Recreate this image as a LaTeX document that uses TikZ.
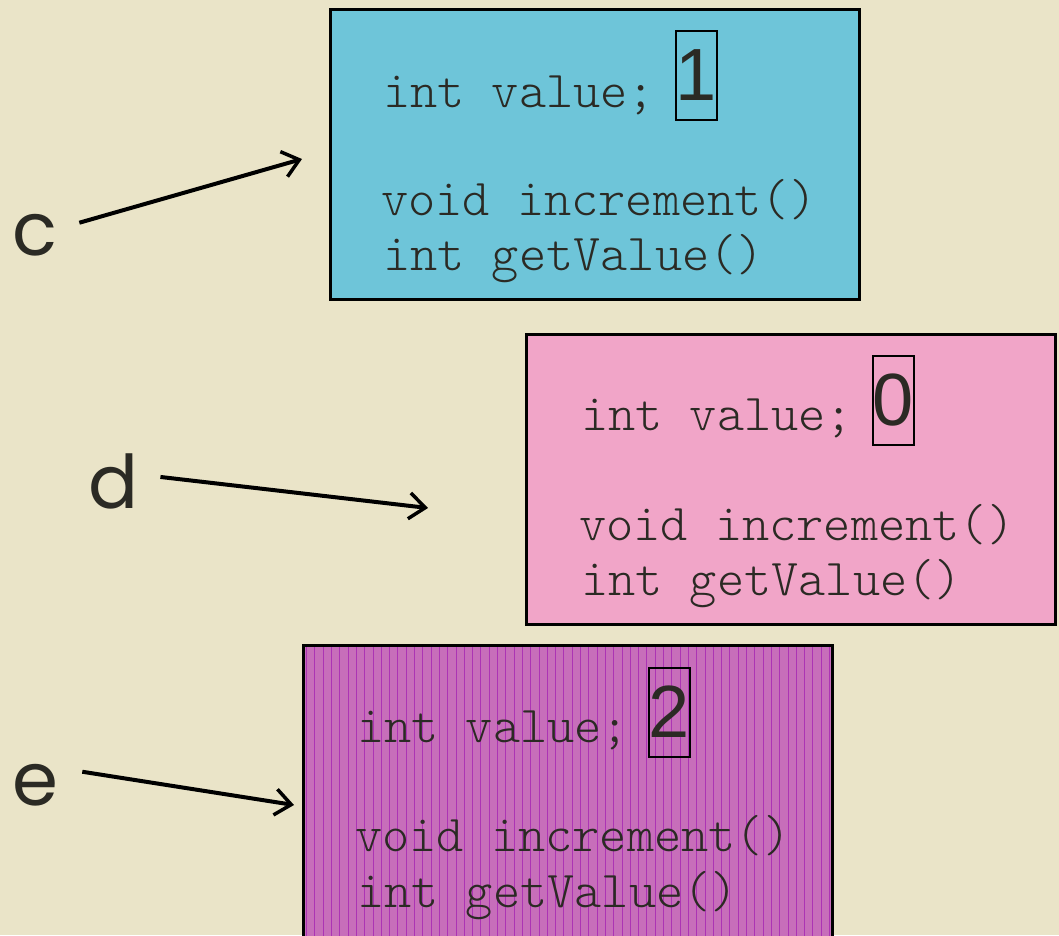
\documentclass[tikz,border=0pt]{standalone}
\usepackage{fontspec}
\usetikzlibrary{arrows.meta}
\newfontfamily\codefont{lmmonolt10-regular.otf}
\newfontfamily\digitfont{Liberation Sans}
\newfontfamily\labelfont{Poppins}
\definecolor{paper}{HTML}{EAE4C8}
\definecolor{ink}{HTML}{2B2A24}
\definecolor{objblue}{HTML}{6EC5D9}
\definecolor{objpink}{HTML}{F1A5C8}
\definecolor{objpurple}{HTML}{C76EBA}
\definecolor{stripe}{HTML}{AC34B4}

\begin{document}
\begin{tikzpicture}[x=1pt, y=-1pt,
  every node/.style={inner sep=0pt},
  objbox/.style={draw=black, line width=3pt, minimum width=529pt, minimum height=290pt},
  striped/.style={path picture={
      \foreach \i in {0,...,66}
        \draw[stripe, line width=0.7pt]
          ([xshift=\i*8.3pt+3pt]path picture bounding box.north west) --
          ([xshift=\i*8.3pt+3pt]path picture bounding box.south west);}},
  codeline/.style={anchor=base west, text=ink, font=\fontsize{51.8}{54}\codefont},
  valbox/.style={draw=black, line width=2pt, minimum width=41pt, minimum height=89pt,
    text=ink, font=\fontsize{74}{80}\digitfont},
  varname/.style={anchor=base west, text=ink, font=\fontsize{74}{80}\labelfont},
  ref/.style={-{Straight Barb[length=16pt, width=26pt, line width=3.5pt]}, line width=4pt, black}]

  % page
  \fill[paper] (0,0) rectangle (1059,935);
  \clip (0,0) rectangle (1059,935);

  % object referenced by c
  \node[objbox, fill=objblue] (objc) at (594.5,154.5) {};
  \node[codeline] (objcval) at (383,107) {int value;};
  \node[valbox] (objcnum) at (696.5,75.5) {1};
  \node[codeline] (objcinc) at (381,215) {void increment()};
  \node[codeline] (objcget) at (383,270) {int getValue()};

  % object referenced by d
  \node[objbox, fill=objpink] (objd) at (791,479) {};
  \node[codeline] (objdval) at (581,430) {int value;};
  \node[valbox] (objdnum) at (893.5,400.5) {0};
  \node[codeline] (objdinc) at (579,540) {void increment()};
  \node[codeline] (objdget) at (581,595) {int getValue()};

  % object referenced by e
  \node[objbox, fill=objpurple, striped, minimum height=320pt] (obje) at (568,805.5) {};
  \node[codeline] (objeval) at (357,742) {int value;};
  \node[valbox] (objenum) at (669.5,712) {2};
  \node[codeline] (objeinc) at (355,851) {void increment()};
  \node[codeline] (objeget) at (357,907) {int getValue()};

  % variables
  \node[varname] (varc) at (12,255) {c};
  \node[varname] (vard) at (88,508) {d};
  \node[varname] (vare) at (12,805) {e};

  \coordinate (tipc) at (302,159);
  \coordinate (tipd) at (428,508);
  \coordinate (tipe) at (294,805);

  % references
  \draw[ref] ([xshift=22pt, yshift=12pt]varc.east) -- (tipc);
  \draw[ref] ([xshift=22pt, yshift=4pt]vard.east) -- (tipd);
  \draw[ref] ([xshift=24pt, yshift=13pt]vare.east) -- (tipe);
\end{tikzpicture}
\end{document}
